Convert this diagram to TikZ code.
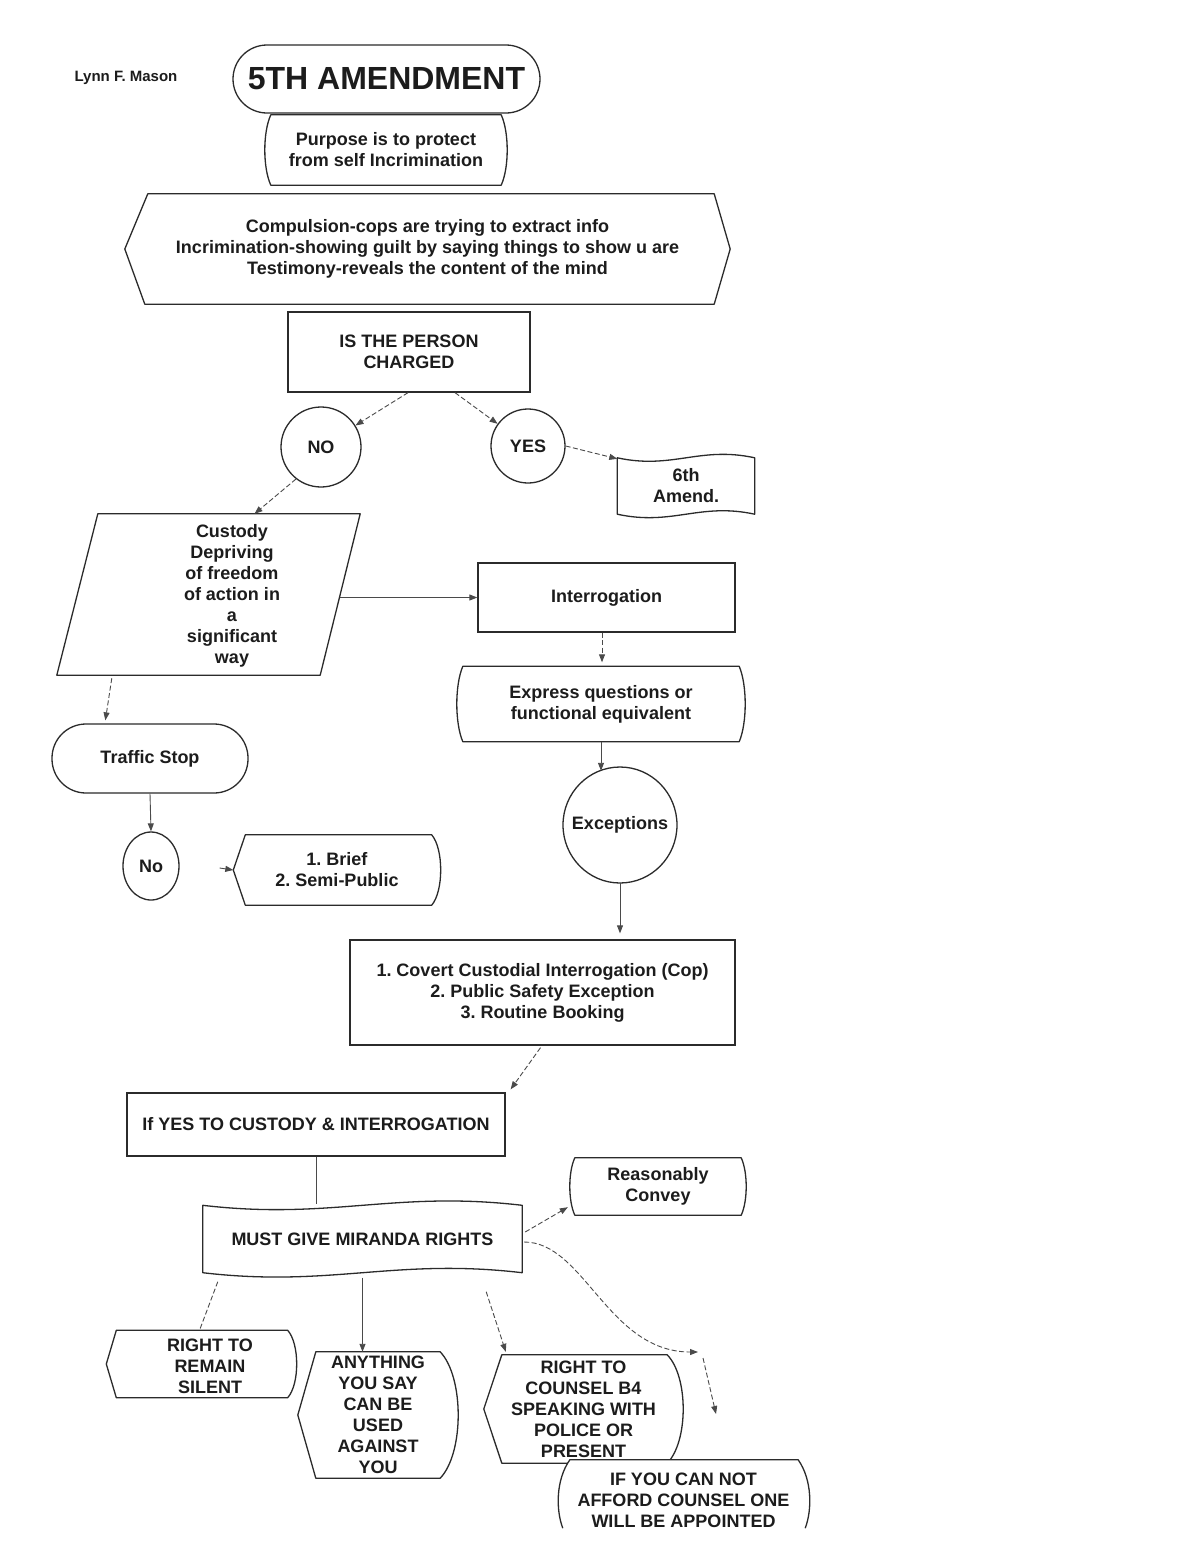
\documentclass[tikz,border=0pt]{standalone}
\usepackage{fontspec}
\setmainfont{Liberation Sans}
\usetikzlibrary{arrows.meta,calc,shapes.geometric,backgrounds}
\definecolor{ink}{HTML}{1C1C1C}
\definecolor{edge}{HTML}{2B2B2B}
\definecolor{conn}{HTML}{4A4A4A}
% display shape: pointed left, arc right
\newcommand{\dispoutline}[3]{%
  \draw[shp] (#1.west) -- ($(#1.north west)+(#2,0)$) -- ($(#1.north east)+(-#3,0)$)
    .. controls ($(#1.north east)!0.2!(#1.south east)+(#3/3,0)$) and ($(#1.north east)!0.8!(#1.south east)+(#3/3,0)$) .. ($(#1.south east)+(-#3,0)$)
    -- ($(#1.south west)+(#2,0)$) -- cycle;}
% box with both sides bowed outward
\newcommand{\bulgeoutline}[2]{%
  \draw[shp] ($(#1.north west)+(#2,0)$) -- ($(#1.north east)+(-#2,0)$)
    .. controls ($(#1.north east)!0.25!(#1.south east)+(#2/3,0)$) and ($(#1.north east)!0.75!(#1.south east)+(#2/3,0)$) .. ($(#1.south east)+(-#2,0)$)
    -- ($(#1.south west)+(#2,0)$)
    .. controls ($(#1.north west)!0.75!(#1.south west)+(-#2/3,0)$) and ($(#1.north west)!0.25!(#1.south west)+(-#2/3,0)$) .. ($(#1.north west)+(#2,0)$)
    -- cycle;}
% punched tape shape: wavy top and bottom
\newcommand{\tapeoutline}[2]{%
  \draw[shp] ($(#1.north west)+(0,#2)$)
    .. controls ($(#1.north west)!0.4!(#1.north east)+(0,4*#2)$) and ($(#1.north west)!0.6!(#1.north east)+(0,-2*#2)$) .. ($(#1.north east)+(0,#2)$)
    -- ($(#1.south east)+(0,-#2)$)
    .. controls ($(#1.south west)!0.6!(#1.south east)+(0,-4*#2)$) and ($(#1.south west)!0.4!(#1.south east)+(0,2*#2)$) .. ($(#1.south west)+(0,-#2)$)
    -- cycle;}
\frenchspacing
\begin{document}
\frenchspacing
\begin{tikzpicture}[x=1pt,y=-1pt,
  txt/.style={font=\fontsize{18}{21}\selectfont\bfseries\frenchspacing,text=ink,align=center,inner sep=0pt},
  box/.style={txt,draw=edge,line width=1.3pt,fill=white},
  shp/.style={draw=edge,line width=1.3pt,fill=white,line join=round},
  tip/.style={-{Triangle[length=8pt,width=6pt]}},
  con/.style={draw=conn,line width=0.9pt,tip},
  dcon/.style={con,dash pattern=on 5pt off 2.5pt},
  ln/.style={draw=conn,line width=0.9pt},
  dln/.style={ln,dash pattern=on 5pt off 2.5pt},
  frame/.style={inner sep=0pt}
]
\useasboundingbox (0,0) rectangle (1200,1553);

% ---------- nodes ----------
\node[font=\fontsize{15}{17}\selectfont\bfseries\frenchspacing,text=ink,inner sep=0pt] (auth) at (126,78) {Lynn F. Mason};
\node[txt,font=\fontsize{32}{36}\selectfont\bfseries,draw=edge,line width=1.3pt,fill=white,rounded corners=34pt,minimum width=307pt,minimum height=68pt] (title) at (386.5,79) {5TH AMENDMENT};
\node[txt,minimum width=242pt,minimum height=70pt] (pur) at (386,150) {Purpose is to protect\\from self Incrimination};
\node[txt,minimum width=605pt,minimum height=110pt] (def) at (427.5,249) {Compulsion-cops are trying to extract info\\Incrimination-showing guilt by saying things to show u are\\Testimony-reveals the content of the mind};
\node[box,minimum width=242pt,minimum height=80pt] (chg) at (409,352) {IS THE PERSON\\CHARGED};
\node[box,circle,minimum size=80pt] (no) at (321,447) {NO};
\node[box,circle,minimum size=74pt] (yes) at (528,446) {YES};
\node[txt,minimum width=137pt,minimum height=64pt] (six) at (686,486) {6th\\Amend.};
\node[frame,minimum width=303pt,minimum height=161pt] (cust) at (208.5,594.5) {};
\node[txt] (custt) at (232,596) {Custody\\Depriving\\of freedom\\of action in\\a\\significant\\way};
\node[box,minimum width=257pt,minimum height=69pt] (inter) at (606.5,597.5) {Interrogation};
\node[txt,minimum width=288pt,minimum height=75pt] (expr) at (601,704) {Express questions or\\functional equivalent};
\node[txt,minimum width=114pt,minimum height=116pt] (exc) at (620,825) {Exceptions};
\node[box,rounded corners=34pt,minimum width=196pt,minimum height=69pt] (traf) at (150,758.5) {Traffic Stop};
\node[box,ellipse,minimum width=56pt,minimum height=68pt] (nob) at (151,866) {No};
\node[txt,minimum width=207pt,minimum height=70pt] (brief) at (337,870) {1. Brief\\2. Semi-Public};
\node[box,minimum width=385pt,minimum height=105pt] (list) at (542.5,992.5) {1. Covert Custodial Interrogation (Cop)\\2. Public Safety Exception\\3. Routine Booking};
\node[box,minimum width=378pt,minimum height=63pt] (ifyes) at (316,1124.5) {If YES TO CUSTODY \& INTERROGATION};
\node[txt,minimum width=319pt,minimum height=77pt] (must) at (362.5,1239) {MUST GIVE MIRANDA RIGHTS};
\node[txt,minimum width=176pt,minimum height=57pt] (reas) at (658,1186.5) {Reasonably\\Convey};
\node[frame,minimum width=190pt,minimum height=67pt] (sil) at (201.5,1364) {};
\node[txt] (silt) at (210,1366) {RIGHT TO\\REMAIN\\SILENT};
\node[txt,minimum width=160pt,minimum height=126pt] (any) at (378,1415) {ANYTHING\\YOU SAY\\CAN BE\\USED\\AGAINST\\YOU};
\node[txt,minimum width=199pt,minimum height=108pt] (cou) at (583.5,1409) {RIGHT TO\\COUNSEL B4\\SPEAKING WITH\\POLICE OR\\PRESENT};
\node[txt,minimum width=253pt,minimum height=80pt] (afford) at (683.5,1500) {IF YOU CAN NOT\\AFFORD COUNSEL ONE\\WILL BE APPOINTED};

% ---------- outlines ----------
\begin{scope}[on background layer]
\fill[white] (0,0) rectangle (1200,1553);
\bulgeoutline{pur}{6}
\draw[shp] (def.west) -- ($(def.north west)+(23,0)$) -- ($(def.north east)+(-16,0)$) -- (def.east)
  -- ($(def.south east)+(-16,0)$) -- ($(def.south west)+(20,0)$) -- cycle;
\tapeoutline{six}{4}
\draw[shp] ($(cust.north west)+(41,0)$) -- (cust.north east) -- ($(cust.south east)+(-40,0)$) -- (cust.south west) -- cycle;
\bulgeoutline{expr}{6}
\draw[shp] (exc.center) ellipse [x radius=57, y radius=58];
\dispoutline{brief}{12}{9}
\tapeoutline{must}{5}
\bulgeoutline{reas}{5}
\dispoutline{sil}{10}{9}
\dispoutline{any}{18}{18}
\dispoutline{cou}{18}{16}
\fill[white] ($(afford.north west)+(13,0)$) -- ($(afford.north east)+(-12,0)$)
  .. controls ($(afford.north east)+(2,20)$) and ($(afford.north east)+(2,50)$) .. ($(afford.south east)+(-5,-12)$)
  -- ($(afford.south west)+(6,-12)$)
  .. controls ($(afford.north west)+(-1,50)$) and ($(afford.north west)+(-1,20)$) .. ($(afford.north west)+(13,0)$) -- cycle;
\draw[draw=edge,line width=1.3pt,line join=round] ($(afford.south west)+(6,-12)$)
  .. controls ($(afford.north west)+(-1,50)$) and ($(afford.north west)+(-1,20)$) .. ($(afford.north west)+(13,0)$)
  -- ($(afford.north east)+(-12,0)$)
  .. controls ($(afford.north east)+(2,20)$) and ($(afford.north east)+(2,50)$) .. ($(afford.south east)+(-5,-12)$);
\end{scope}

% ---------- connectors ----------
\draw[dcon] ($(chg.south)+(-1,0)$) -- (no);
\draw[dcon] ($(chg.south)+(46,0)$) -- (yes);
\draw[dcon] (yes.east) -- ($(six.north west)+(0,5)$);
\draw[dcon] (no.-128) -- ($(cust.north)+(46,0)$);
\draw[con] ($(cust.east)+(-20,3)$) -- (inter.west);
\draw[dcon] ($(inter.south)+(-4.5,0)$) -- ($(expr.north)+(1,-4)$);
\draw[con] (expr.south) -- ($(expr.south |- exc.north)+(0,4)$);
\draw[dcon] ($(cust.south west)+(55,3)$) -- ($(traf.north west)+(54,-3)$);
\draw[con] (traf.south) -- (nob.north);
\coordinate (nobout) at ($(nob.east)+(40,2)$);
\draw[con] (nobout) -- (brief.west);
\draw[con] (exc.south) -- ($(exc.south |- list.north)+(0,-6)$);
\draw[dcon] ($(list.south)+(-2,2)$) -- ($(ifyes.north east)+(5,-3)$);
\draw[ln] (ifyes.south) -- ($(ifyes.south |- must.north)+(0,4)$);
\draw[dcon] ($(must.east)+(3,-7)$) -- ($(reas.south west)+(-2,-8)$);
\draw[dln] ($(must.south west)+(15,4)$) -- ($(sil.north)+(-2,0)$);
\draw[con] (must.south) -- (must.south |- any.north);
\coordinate (cs) at ($(must.south east)+(-36,14)$);
\draw[dcon] (cs) -- ($(cou.north west)+(22,-3)$);
\coordinate (ce) at (698,1352);
\draw[dcon] ($(must.east)+(2,3)$) .. controls +(60,0) and +(-90,0) .. (ce);
\coordinate (c2a) at (703,1358);
\coordinate (c2b) at (716,1414);
\draw[dcon] (c2a) -- (c2b);
\end{tikzpicture}
\end{document}
